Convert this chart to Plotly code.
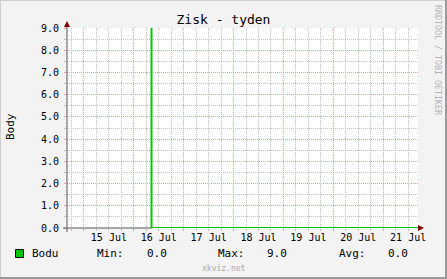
import plotly.graph_objects as go

# ---- data ----
times = ["2014-07-16 08:30", "2014-07-16 08:30", "2014-07-21 16:45"]
values = [9.0, 0.0, 0.0]
series_name = "Bodu"
stat_labels = ["Min:", "Max:", "Avg:"]
stat_values = [0.0, 9.0, 0.0]
day_labels = ["15 Jul", "16 Jul", "17 Jul", "18 Jul", "19 Jul", "20 Jul", "21 Jul"]
label_times = ["2014-07-15 12:00", "2014-07-16 12:00", "2014-07-17 12:00", "2014-07-18 12:00",
               "2014-07-19 12:00", "2014-07-20 12:00", "2014-07-21 12:00"]
x_range = ["2014-07-14 15:50", "2014-07-21 16:45"]
y_range = [0, 9]
days = ["2014-07-14", "2014-07-15", "2014-07-16", "2014-07-17", "2014-07-18",
        "2014-07-19", "2014-07-20", "2014-07-21"]
minor_hours = ["06:00", "12:00", "18:00"]
y_minor = [0.5, 1.5, 2.5, 3.5, 4.5, 5.5, 6.5, 7.5, 8.5]

W, H = 447, 279
L, R, T, B = 67, 29, 28, 51
PW, PH = W - L - R, H - T - B

def px(x):
    return (x - L) / PW

def py(y):
    return (H - B - y) / PH

MONO = "DejaVu Sans Mono"
MGRID = "#FF9494"
GRID = "#C0C0C0"
GREEN = "#00C800"
DASH = "1px,1px"

x_minor = [f"{d} {h}" for d in days for h in minor_hours]

fig = go.Figure()
fig.add_trace(go.Scatter(x=times, y=values, mode="lines",
                         line=dict(color=GREEN, width=2), showlegend=False,
                         cliponaxis=False))
# invisible trace for label axis
fig.add_trace(go.Scatter(x=label_times, y=[None] * len(label_times), xaxis="x2",
                         showlegend=False, hoverinfo="skip"))

fig.update_layout(
    width=W, height=H,
    margin=dict(l=L, r=R, t=T, b=B),
    paper_bgcolor="#F3F3F3",
    plot_bgcolor="#FFFFFF",
    showlegend=False,
    title=dict(text="Zisk - tyden", x=0.5, xref="container", xanchor="center",
               y=1 - 19 / H, yref="container", yanchor="middle",
               font=dict(family=MONO, size=13, color="#000000")),
    xaxis=dict(type="date", range=x_range, showticklabels=False,
               tickmode="array", tickvals=days,
               showgrid=True, gridcolor=MGRID, griddash=DASH, gridwidth=1,
               ticks="outside", ticklen=2, tickcolor=MGRID,
               minor=dict(tickmode="array", tickvals=x_minor, showgrid=True, gridcolor=GRID,
                          griddash=DASH, ticks="outside", ticklen=2, tickcolor=GRID),
               showline=False, zeroline=False, fixedrange=True),
    xaxis2=dict(type="date", range=x_range, overlaying="x", side="bottom",
                tickmode="array", tickvals=label_times, ticktext=day_labels,
                showgrid=False, ticks="", showline=False, zeroline=False,
                tickfont=dict(family=MONO, size=10, color="#000000"),
                ticklabelstandoff=2),
    yaxis=dict(range=y_range, tick0=0, dtick=1, tickformat=".1f",
               showgrid=True, gridcolor=MGRID, griddash=DASH, gridwidth=1,
               ticks="outside", ticklen=2, tickcolor=MGRID,
               minor=dict(tickmode="array", tickvals=y_minor, showgrid=True, gridcolor=GRID,
                          griddash=DASH, ticks="outside", ticklen=2, tickcolor=GRID),
               tickfont=dict(family=MONO, size=10, color="#000000"),
               ticklabelstandoff=3,
               showline=False, zeroline=False, fixedrange=True),
)

AX = "#555555"
ARROW = "#7F0000"
shapes = [
    # axis lines
    dict(type="line", xref="paper", yref="paper", x0=px(67), x1=px(67), y0=py(232), y1=py(24),
         line=dict(color=AX, width=1)),
    dict(type="line", xref="paper", yref="paper", x0=px(63), x1=px(67), y0=py(228), y1=py(228),
         line=dict(color=AX, width=1)),
    dict(type="line", xref="x", yref="paper", x0=x_range[0], x1=times[0], y0=0, y1=0,
         line=dict(color=AX, width=1)),
    # arrows
    dict(type="path", xref="paper", yref="paper",
         path=f"M {px(64)} {py(27)} L {px(70)} {py(27)} L {px(67)} {py(21)} Z",
         fillcolor=ARROW, line=dict(width=0)),
    dict(type="path", xref="paper", yref="paper",
         path=f"M {px(418)} {py(225)} L {px(418)} {py(231)} L {px(424)} {py(228)} Z",
         fillcolor=ARROW, line=dict(width=0)),
    # legend swatch
    dict(type="rect", xref="paper", yref="paper", x0=px(15.5), x1=px(23.5), y0=py(249.5), y1=py(257.5),
         fillcolor=GREEN, line=dict(color="#000000", width=1)),
    # frame
    dict(type="line", xref="paper", yref="paper", x0=px(0), x1=px(W), y0=py(0.5), y1=py(0.5),
         line=dict(color="#CFCFCF", width=1)),
    dict(type="line", xref="paper", yref="paper", x0=px(0.5), x1=px(0.5), y0=py(0), y1=py(H),
         line=dict(color="#CFCFCF", width=1)),
    dict(type="line", xref="paper", yref="paper", x0=px(0), x1=px(W), y0=py(H - 1), y1=py(H - 1),
         line=dict(color="#9A9A9A", width=2)),
    dict(type="line", xref="paper", yref="paper", x0=px(W - 1), x1=px(W - 1), y0=py(0), y1=py(H),
         line=dict(color="#9A9A9A", width=2)),
]
fig.update_layout(shapes=shapes)

ann = []
def text(x, y, s, size=11, color="#000000", xanchor="left", angle=0):
    ann.append(dict(x=px(x), y=py(y), xref="paper", yref="paper", text=s, showarrow=False,
                    xanchor=xanchor, yanchor="middle", textangle=angle,
                    font=dict(family=MONO, size=size, color=color)))

text(10, 127, "Body", size=11, xanchor="center", angle=-90)
text(30, 253.5, series_name)
stat_x = [(95, 145), (216, 265), (337, 386)]
for (lx, vx), lab, val in zip(stat_x, stat_labels, stat_values):
    text(lx, 253.5, lab)
    text(vx, 253.5, f"{val:.1f}")
text(223.5, 268, "xkviz.net", size=8, color="#AAAAAA", xanchor="center")
text(438, 60, "RRDTOOL / TOBI OETIKER", size=8.3, color="#B4B4B4", xanchor="center", angle=90)
fig.update_layout(annotations=ann)

fig.write_html("out.html")
